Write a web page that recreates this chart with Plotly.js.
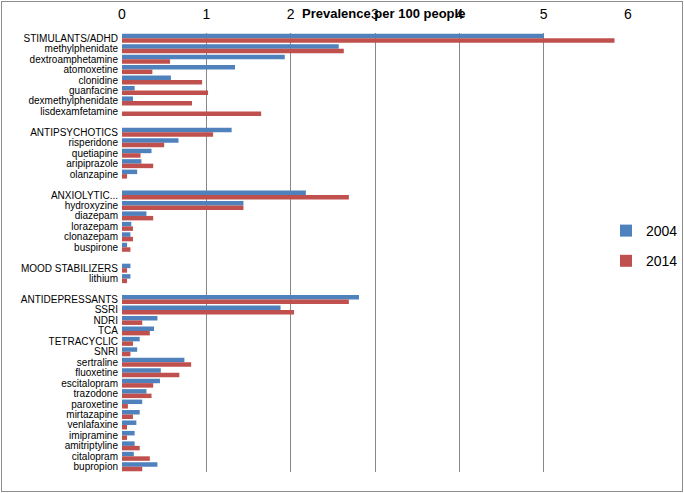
<!DOCTYPE html>
<html><head><meta charset="utf-8">
<script src="https://cdn.plot.ly/plotly-3.0.1.min.js"></script>
<style>
html,body{margin:0;padding:0;background:#fff;}
#wrap{position:relative;width:684px;height:493px;}
#chart{width:684px;height:493px;}
#frame{position:absolute;left:1px;top:1px;width:680px;height:489px;border:1px solid #8c8c8c;pointer-events:none;}
</style></head>
<body><div id="wrap"><div id="chart"></div><div id="frame"></div></div>
<script>
const categories = [
 "STIMULANTS/ADHD","methylphenidate","dextroamphetamine","atomoxetine","clonidine","guanfacine","dexmethylphenidate","lisdexamfetamine",
 "",
 "ANTIPSYCHOTICS","risperidone","quetiapine","aripiprazole","olanzapine",
 "",
 "ANXIOLYTIC...","hydroxyzine","diazepam","lorazepam","clonazepam","buspirone",
 "",
 "MOOD STABILIZERS","lithium",
 "",
 "ANTIDEPRESSANTS","SSRI","NDRI","TCA","TETRACYCLIC","SNRI","sertraline","fluoxetine","escitalopram","trazodone","paroxetine","mirtazapine","venlafaxine","imipramine","amitriptyline","citalopram","bupropion"
];
const v2004 = [
 5.0,2.57,1.93,1.34,0.58,0.15,0.13,0,
 null,
 1.30,0.67,0.35,0.23,0.18,
 null,
 2.18,1.44,0.29,0.11,0.10,0.06,
 null,
 0.10,0.10,
 null,
 2.81,1.88,0.42,0.38,0.21,0.18,0.74,0.46,0.45,0.29,0.24,0.21,0.17,0.15,0.15,0.14,0.42
];
const v2014 = [
 5.84,2.63,0.57,0.36,0.95,1.02,0.83,1.65,
 null,
 1.08,0.50,0.22,0.37,0.06,
 null,
 2.69,1.44,0.37,0.13,0.13,0.10,
 null,
 0.06,0.06,
 null,
 2.69,2.04,0.24,0.33,0.13,0.10,0.82,0.68,0.37,0.35,0.07,0.13,0.06,0.06,0.21,0.33,0.24
];
const seriesNames = ["2004","2014"];
const xTicks = [0,1,2,3,4,5,6];

const pos = categories.map((c,i)=>i);
const traces = [
 {type:'bar',orientation:'h',name:seriesNames[0],y:pos,x:v2004,marker:{color:'#4F81BD'},legendgroup:'a'},
 {type:'bar',orientation:'h',name:seriesNames[1],y:pos,x:v2014,marker:{color:'#C0504D'},legendgroup:'b'}
];
const layout = {
 width:684,height:493,
 margin:{l:122,r:56,t:33,b:21,autoexpand:false},
 paper_bgcolor:'#fff',plot_bgcolor:'#fff',
 barmode:'group',bargap:0.14,bargroupgap:0,
 font:{family:'"Liberation Sans", Arial, sans-serif',color:'#000'},
 title:{text:'<b>Prevalence per 100 people</b>',font:{size:13,color:'#000'},xref:'container',yref:'container',x:0.561,xanchor:'center',y:1-13/493,yanchor:'middle'},
 xaxis:{side:'top',range:[0,6],tickvals:xTicks,ticktext:xTicks.map(String),showgrid:true,gridcolor:'#878787',gridwidth:1,zeroline:false,showline:false,ticks:'',tickfont:{size:14},ticklabelstandoff:10,fixedrange:true,automargin:false},
 yaxis:{range:[categories.length-0.5,-0.5],tickvals:pos,ticktext:categories,ticks:'',showgrid:false,zeroline:false,showline:false,tickfont:{size:10},ticklabelstandoff:3,fixedrange:true,automargin:false},
 legend:{xref:'container',yref:'container',x:606/684,xanchor:'left',y:1-246/493,yanchor:'middle',font:{size:14},bgcolor:'rgba(0,0,0,0)',traceorder:'grouped',tracegroupgap:9,itemwidth:30},
 showlegend:true
};
Plotly.newPlot('chart',traces,layout,{displayModeBar:false,staticPlot:true});
</script></body></html>
